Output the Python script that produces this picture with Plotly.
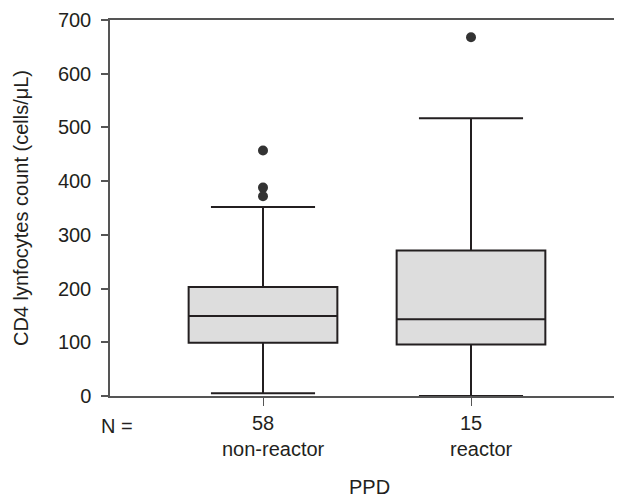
import plotly.graph_objects as go

# ---- data ----
groups = ["non-reactor", "reactor"]
n_labels = ["58", "15"]
q1 = [99, 96]
median = [149, 143]
q3 = [203, 271]
lower_whisker = [5, 0]
upper_whisker = [352, 517]
outliers_nonreactor = [457, 388, 372]
outliers_reactor = [668]

y_ticks = [0, 100, 200, 300, 400, 500, 600, 700]
y_title = "CD4 lynfocytes count (cells/μL)"
x_title = "PPD"

FONT = "Liberation Sans, Arial, sans-serif"
TXT = "#231f20"
FS = 20

x_pos = list(range(len(groups)))

fig = go.Figure()
fig.add_trace(go.Box(
    x=x_pos,
    q1=q1, median=median, q3=q3,
    lowerfence=lower_whisker, upperfence=upper_whisker,
    width=0.715, whiskerwidth=0.7,
    fillcolor="#dddddd",
    line=dict(color="#231f20", width=2),
    boxpoints=False,
    showlegend=False,
    hoverinfo="skip",
))

out_x = [0] * len(outliers_nonreactor) + [1] * len(outliers_reactor)
out_y = outliers_nonreactor + outliers_reactor
fig.add_trace(go.Scatter(
    x=out_x, y=out_y, mode="markers",
    marker=dict(size=10, color="#333333", line=dict(width=0)),
    showlegend=False, hoverinfo="skip",
))

# page body has an 8px margin, so the figure is made 8px smaller
fig.update_layout(
    width=614, height=489,
    margin=dict(l=102, r=0, t=11.5, b=101.3),
    paper_bgcolor="white", plot_bgcolor="white",
    font=dict(family=FONT, size=FS, color=TXT),
    showlegend=False,
)

fig.update_xaxes(
    range=[-0.7356, 1.726],
    tickmode="array", tickvals=x_pos, ticktext=n_labels,
    ticks="outside", ticklen=8, tickwidth=1, tickcolor="#555",
    showline=True, linecolor="#555", linewidth=1.5, mirror=True,
    showgrid=False, zeroline=False,
    tickfont=dict(family=FONT, size=FS, color=TXT),
)
fig.update_yaxes(
    range=[0, 700],
    tickmode="array", tickvals=y_ticks,
    ticks="outside", ticklen=7, tickwidth=1.5, tickcolor="#555",
    ticklabelstandoff=6,
    showline=True, linecolor="#555", linewidth=1.5, mirror=False,
    showgrid=False, zeroline=False,
    tickfont=dict(family=FONT, size=FS, color=TXT),
    title=dict(text=y_title, font=dict(family=FONT, size=FS, color=TXT), standoff=24),
)

# group names under N values
for i, g in enumerate(groups):
    fig.add_annotation(x=x_pos[i] + 0.05, y=-0.142, xref="x", yref="paper",
                       text=g, showarrow=False, xanchor="center", yanchor="middle",
                       font=dict(family=FONT, size=FS, color=TXT))

fig.add_annotation(x=0.0129, y=-0.0785, xref="paper", yref="paper",
                   text="N =", showarrow=False, xanchor="center", yanchor="middle",
                   font=dict(family=FONT, size=FS, color=TXT))
fig.add_annotation(x=0.506, y=-0.243, xref="paper", yref="paper",
                   text=x_title, showarrow=False, xanchor="center", yanchor="middle",
                   font=dict(family=FONT, size=FS, color=TXT))

fig.write_html("out.html")
